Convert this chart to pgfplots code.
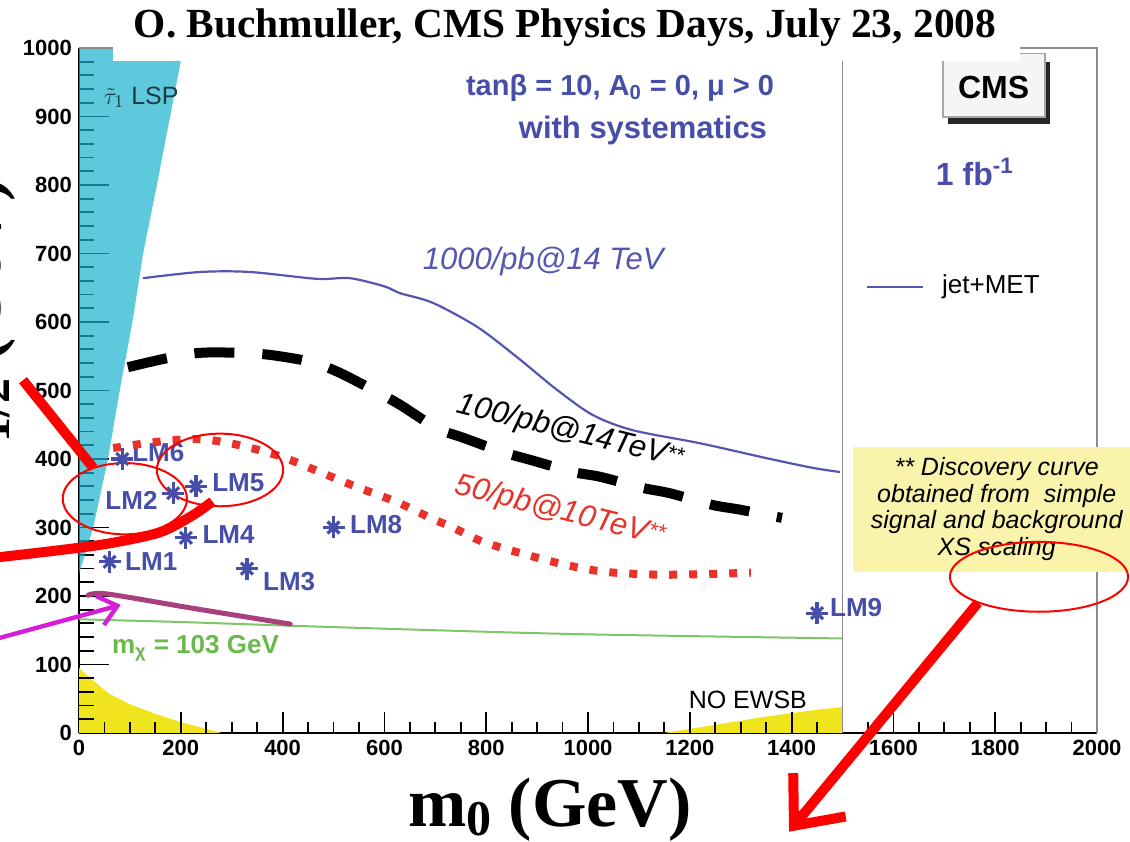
\documentclass[border=0pt]{standalone}
\usepackage{fontspec}
\setmainfont{Liberation Sans}
\newfontfamily\timesfont{Liberation Serif}
\usepackage{pgfplots}
\pgfplotsset{compat=1.18}
\usetikzlibrary{arrows.meta}

\definecolor{lspcyan}{RGB}{26,176,205}
\definecolor{ewsbyellow}{RGB}{240,228,30}
\definecolor{msugrablue}{RGB}{84,86,176}
\definecolor{lmblue}{RGB}{70,78,170}
\definecolor{chigreen}{RGB}{125,198,105}
\definecolor{chitext}{RGB}{105,185,75}
\definecolor{handpurple}{RGB}{168,64,126}
\definecolor{handmagenta}{RGB}{214,30,214}
\definecolor{dotred}{RGB}{232,50,42}
\definecolor{noteyellow}{RGB}{250,243,172}
\definecolor{framegray}{RGB}{140,140,140}
\definecolor{lsptext}{RGB}{20,60,66}

\begin{document}
\begin{tikzpicture}
\useasboundingbox (0,0) rectangle (565pt,420.5pt);
\clip (0,0) rectangle (565pt,420.5pt);
\begin{axis}[
  at={(39.5pt,54pt)}, anchor=south west,
  width=509pt, height=342.5pt, scale only axis,
  xmin=0, xmax=2000, ymin=0, ymax=1000,
  axis x line*=bottom, axis y line*=left,
  axis line style={-, line width=0.9pt, black},
  every outer x axis line/.append style={-},
  every outer y axis line/.append style={-},
  xtick={0,200,...,2000}, ytick={0,100,...,1000},
  minor x tick num=3, minor y tick num=4,
  tick align=inside,
  major tick length=15pt, minor tick length=7.5pt,
  every x tick/.append style={/pgfplots/major tick length=10.5pt,/pgfplots/minor tick length=5.5pt},
  tick style={line width=0.9pt, black},
  ticklabel style={font=\fontsize{11}{11}\selectfont\bfseries},
  /pgf/number format/assume math mode=true,
  /pgf/number format/1000 sep={},
  clip=false,
]
% no EWSB / LEP excluded regions
\addplot[draw=none, fill=ewsbyellow]
  coordinates {(0,0)(0,95)(30,75)(60,57)(100,42)(150,28)(200,16)(280,0)} -- cycle;
\addplot[draw=none, fill=ewsbyellow]
  coordinates {(1150,0)(1250,12)(1350,24)(1450,34)(1500,38)(1500,0)} -- cycle;
% tick marks kept visible on top of the yellow regions
\begin{scope}[line width=0.9pt, black]
\draw (axis cs:0,20) -- (axis cs:29.5,20);
\draw (axis cs:0,40) -- (axis cs:29.5,40);
\draw (axis cs:0,60) -- (axis cs:29.5,60);
\draw (axis cs:0,80) -- (axis cs:29.5,80);
\draw (axis cs:50,0) -- (axis cs:50,16);
\draw (axis cs:100,0) -- (axis cs:100,16);
\draw (axis cs:150,0) -- (axis cs:150,16);
\draw (axis cs:200,0) -- (axis cs:200,30.7);
\draw (axis cs:250,0) -- (axis cs:250,16);
\draw (axis cs:1200,0) -- (axis cs:1200,30.7);
\draw (axis cs:1250,0) -- (axis cs:1250,16);
\draw (axis cs:1300,0) -- (axis cs:1300,16);
\draw (axis cs:1350,0) -- (axis cs:1350,16);
\draw (axis cs:1400,0) -- (axis cs:1400,30.7);
\draw (axis cs:1450,0) -- (axis cs:1450,16);
\end{scope}
% stau LSP region (translucent over the ticks)
\addplot[draw=none, fill=lspcyan, fill opacity=0.7]
  coordinates {(0,232)(0,1000)(205,1000)(179,900)(153,800)(126,700)(105,600)(80,500)(57,400)(28,300)} -- cycle;
% frame
\addplot[framegray, line width=0.8pt] coordinates {(1500,0)(1500,1000)};
\draw[framegray, line width=0.7pt] (axis cs:0,1000) -- (axis cs:2000,1000) -- (axis cs:2000,0);
% neutralino mass contour
\addplot[chigreen, line width=1pt, smooth]
  coordinates {(0,166)(200,162)(400,157)(700,150)(1000,144)(1500,138)};
% hand-drawn line
\addplot[handpurple, line width=2.5pt, smooth, line cap=round]
  coordinates {(18,201)(55,203)(224,182)(415,159)};
% 1000/pb at 14 TeV
\addplot[msugrablue, line width=1.1pt, smooth]
  coordinates {(126,664)(238,673)(336,673)(467,663)(532,664)(600,652)(631,642)(695,628)(782,593)(860,549)(939,501)(1010,464)(1088,442)(1220,423)(1352,401)(1442,387)(1495,381)};
% 100/pb at 14 TeV
\addplot[black, line width=5pt, dash pattern=on 20pt off 14pt, smooth]
  coordinates {(96,534)(172,547)(238,555)(313,555)(375,552)(454,542)(509,527)(585,498)(631,479)(703,445)(755,431)(833,410)(890,398)(971,381)(1024,374)(1106,358)(1161,350)(1244,333)(1299,326)(1381,314)};
% LM benchmark points
\addplot[only marks, mark=+, mark size=5.5pt, lmblue, mark options={line width=1.6pt}]
  coordinates {(60,250)(185,350)(330,240)(210,285)(230,360)(85,400)(500,300)(1450,175)};
\addplot[only marks, mark=x, mark size=4.2pt, lmblue, mark options={line width=1.6pt}]
  coordinates {(60,250)(185,350)(330,240)(210,285)(230,360)(85,400)(500,300)(1450,175)};
\begin{scope}[every node/.style={lmblue, font=\bfseries\fontsize{13}{13}\selectfont, inner sep=0pt}]
\node[anchor=west] at (axis cs:90,250) {LM1};
\node[anchor=east] at (axis cs:155,340) {LM2};
\node[anchor=west] at (axis cs:361,221) {LM3};
\node[anchor=west] at (axis cs:242,289) {LM4};
\node[anchor=west] at (axis cs:261,365) {LM5};
\node[anchor=west] at (axis cs:104,409) {LM6};
\node[anchor=west] at (axis cs:532,305) {LM8};
\node[anchor=west] at (axis cs:1475,183) {LM9};
\end{scope}
% 50/pb at 10 TeV
\addplot[dotred, line width=4pt, dash pattern=on 4pt off 6pt, smooth]
  coordinates {(67,416)(153,425)(238,429)(316,420)(399,403)(473,381)(546,359)(625,337)(696,312)(729,302)(794,279)(880,260)(959,245)(1037,235)(1155,231)(1320,234)};

% labels inside the plane
\node[anchor=west, lsptext, font=\fontsize{12.5}{12.5}\selectfont] at (axis cs:35,928) {$\tilde{\tau}_1$ LSP};
\node[anchor=west, chitext, font=\bfseries\fontsize{13}{13}\selectfont] at (axis cs:51,124) {m\textsubscript{χ} = 103 GeV};
\node[font=\fontsize{12.5}{12.5}\selectfont] at (axis cs:1314,48) {NO EWSB};
\node[lmblue, font=\bfseries\fontsize{14.5}{14.5}\selectfont] at (axis cs:1063,942) {tanβ = 10, A\textsubscript{0} = 0, μ > 0};
\node[lmblue, font=\bfseries\fontsize{15.5}{15.5}\selectfont] at (axis cs:1108,880) {with systematics};
\node[msugrablue, font=\itshape\fontsize{15.5}{15.5}\selectfont] at (axis cs:912,688) {1000/pb@14 TeV};
\node[rotate=-14, font=\itshape\fontsize{15.5}{15.5}\selectfont] at (axis cs:965,439) {100/pb@14TeV\raisebox{2.5pt}{\fontsize{11}{11}\selectfont**}};
\node[rotate=-14, dotred, font=\itshape\fontsize{15.5}{15.5}\selectfont] at (axis cs:945,323) {50/pb@10TeV\raisebox{2.5pt}{\fontsize{11}{11}\selectfont**}};

% legend
\fill[black!85] (axis cs:1707,889) rectangle (axis cs:1908,980);
\filldraw[fill=gray!8, draw=gray!70, line width=0.8pt] (axis cs:1697,899) rectangle (axis cs:1898,992);
\node[font=\bfseries\fontsize{16}{16}\selectfont] at (axis cs:1797,943) {CMS};
\node[lmblue, font=\bfseries\fontsize{16}{16}\selectfont] at (axis cs:1760,819) {1 fb\textsuperscript{-1}};
\draw[msugrablue, line width=1.2pt] (axis cs:1548,651) -- (axis cs:1658,651);
\node[anchor=west, inner sep=0pt, font=\fontsize{13}{13}\selectfont] at (axis cs:1695,651) {jet+MET};

% note
\fill[noteyellow] (axis cs:1521,235) rectangle (axis cs:2150,418);
\node[align=center, font=\itshape\fontsize{12.5}{13.3}\selectfont] at (axis cs:1803,327)
  {** Discovery curve\\obtained from~ simple\\signal and background\\XS scaling};

% annotations
\draw[red, line width=1pt] (axis cs:90,342) ellipse [x radius=122, y radius=52];
\draw[red, line width=1pt] (axis cs:277,384) ellipse [x radius=124, y radius=53];
\draw[red, line width=1pt] (axis cs:1886,228) ellipse [x radius=175, y radius=51];
\draw[red, line width=5pt] (axis cs:-110,515) -- (axis cs:28,387);
\addplot[red, line width=5pt, smooth]
  coordinates {(-165,256)(-37,267)(61,277)(159,293)(224,318)(262,338)};
\draw[handmagenta, line width=2.2pt, -{Straight Barb[length=9pt,width=15pt]}]
  (axis cs:-160,138) -- (axis cs:82,187);
\draw[red, line width=5pt, -{Straight Barb[length=20pt,width=34pt]}]
  (axis cs:1766,190) -- (axis cs:1395,-144);

% header
\fill[white] (axis cs:67,981) rectangle (axis cs:1849,1090);
\node[anchor=base, font=\timesfont\bfseries\fontsize{20.7}{22}\selectfont] at (axis cs:955,1015)
  {O. Buchmuller, CMS Physics Days, July 23, 2008};

% axis titles
\node[anchor=base, font=\timesfont\bfseries\fontsize{35}{36}\selectfont] at (axis cs:925,-136)
  {m\raisebox{-4.5pt}{\fontsize{25}{25}\selectfont 0} (GeV)};
\node[anchor=base, rotate=90, font=\timesfont\bfseries\fontsize{35}{36}\selectfont] at (axis cs:-155,574)
  {m\raisebox{-4.5pt}{\fontsize{25}{25}\selectfont 1/2} (GeV)};
\end{axis}
\end{tikzpicture}
\end{document}
